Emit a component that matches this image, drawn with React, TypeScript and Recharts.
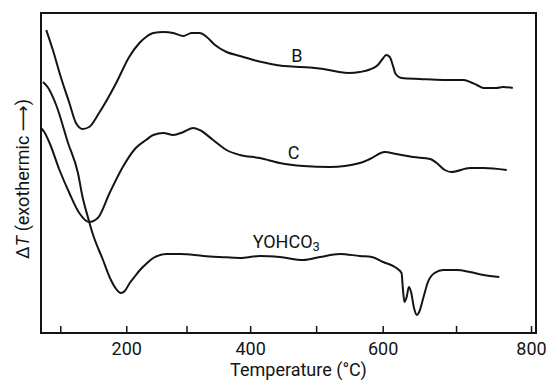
import React from 'react';
import { LineChart, Line, XAxis, YAxis, ReferenceArea, ReferenceDot, Label } from 'recharts';

// DTA traces: furnace temperature (°C) against ΔT (arbitrary recorder units)
const tempB = [78, 88, 100, 113, 123, 133, 143, 158, 184, 204, 221, 232, 244, 261, 277, 294, 307, 320, 331, 344, 362, 383, 404, 424, 444, 462, 490, 510, 530, 548, 565, 580, 592, 599, 604, 609, 613, 617, 625, 650, 682, 709, 718, 727, 736, 753, 762, 775];
const dtB = [303, 283, 256, 230, 210, 204, 206, 220, 250, 276, 290, 296, 300, 301, 300, 297, 300, 300, 296, 288, 281, 277, 273, 270, 267.5, 266.5, 265.5, 264, 261.5, 260, 261, 263.5, 268, 274, 278, 276, 268, 259, 255, 254, 253, 253, 251, 248, 245, 245, 246, 245];

const tempC = [70, 75, 83, 98, 113, 128, 143, 156, 174, 194, 215, 232, 244, 261, 277, 294, 310, 320, 341, 362, 383, 414, 444, 480, 520, 565, 580, 602, 618, 641, 664, 673, 684, 693, 718, 736, 767];
const dtC = [205, 201, 190, 163, 140, 120, 111, 115, 140, 166, 185, 193, 198, 200, 198, 201, 205, 203, 193, 183, 178, 175, 170, 167, 166, 170, 174, 181, 179, 176, 174, 170, 163, 161, 165, 165, 163];

const tempY = [73, 80, 93, 111, 126, 133, 141, 148, 164, 176, 184, 191, 197, 205, 214, 222, 232, 244, 266, 289, 326, 352, 383, 414, 444, 480, 505, 535, 565, 583, 600, 616, 625, 627, 629, 632, 635, 638, 642, 646, 649, 655, 661, 670, 682, 700, 718, 736, 757];
const dtY = [251, 246, 228, 190, 160, 136, 116, 100, 73, 53, 44, 40, 42, 50, 57, 63, 69, 75, 79, 79, 77, 76, 75, 77, 76, 73, 76, 79, 77, 76, 71, 66, 60, 43, 31, 36, 46, 41, 25, 18, 21, 36, 51, 60, 63, 63, 61, 58, 56];

// Axis ticks (every 100 °C, labelled every 200 °C)
const xTicks = [100, 200, 300, 400, 500, 600, 700, 800];
const xTickLabels = ['', '200', '', '400', '', '600', '', '800'];
const xDomain = [70, 806];
const yDomain = [0, 320];

// Curve captions: [temperature, ΔT] anchor of each name
const nameB = [470, 278];
const nameC = [465, 181];
const nameY = [403, 92];

// The recorder's temperature scale is not linear: relative length of the axis at each 100 °C mark
const scaleKnotTemp = [100, 200, 300, 400, 500, 600, 700, 800];
const scaleKnotPos = [0, 66, 126.3, 190, 256, 322.6, 396, 471];

const ink = '#141414';
const font = "Roboto, 'Liberation Sans', 'DejaVu Sans', sans-serif";

function segmentIndex(v: number, knots: number[]): number {
  if (v <= knots[0]) return 0;
  if (v >= knots[knots.length - 1]) return knots.length - 2;
  let i = 0;
  while (v > knots[i + 1]) i++;
  return i;
}

function warp(t: number): number {
  const i = segmentIndex(t, scaleKnotTemp);
  const k0 = scaleKnotTemp[i], k1 = scaleKnotTemp[i + 1];
  const p0 = scaleKnotPos[i], p1 = scaleKnotPos[i + 1];
  return p0 + ((t - k0) / (k1 - k0)) * (p1 - p0);
}

function unwarp(u: number): number {
  const i = segmentIndex(u, scaleKnotPos);
  const k0 = scaleKnotTemp[i], k1 = scaleKnotTemp[i + 1];
  const p0 = scaleKnotPos[i], p1 = scaleKnotPos[i + 1];
  return k0 + ((u - p0) / (p1 - p0)) * (k1 - k0);
}

// d3-style scale following the recorder's thermocouple calibration
function thermoScale(): any {
  let dom: number[] = [0, 1];
  let rng: number[] = [0, 1];
  const s: any = (t: number) => {
    const u0 = warp(dom[0]);
    const u1 = warp(dom[1]);
    return rng[0] + ((warp(Number(t)) - u0) / (u1 - u0)) * (rng[1] - rng[0]);
  };
  s.domain = (d?: any[]) => {
    if (d === undefined) return dom.slice();
    dom = [Number(d[0]), Number(d[d.length - 1])];
    return s;
  };
  s.range = (r?: any[]) => {
    if (r === undefined) return rng.slice();
    rng = [Number(r[0]), Number(r[r.length - 1])];
    return s;
  };
  s.invert = (px: number) => {
    const u0 = warp(dom[0]);
    const u1 = warp(dom[1]);
    return unwarp(u0 + ((px - rng[0]) / (rng[1] - rng[0])) * (u1 - u0));
  };
  s.ticks = () => xTicks.filter((t) => t >= dom[0] && t <= dom[1]);
  s.tickFormat = () => (v: number) => String(v);
  s.nice = () => s;
  s.clamp = () => s;
  s.copy = () => thermoScale().domain(dom).range(rng);
  return s;
}

const tempScale = thermoScale();

const toRows = (temps: number[], dts: number[]) => temps.map((t, i) => ({ t, dt: dts[i] }));
const seriesB = toRows(tempB, dtB);
const seriesC = toRows(tempC, dtC);
const seriesY = toRows(tempY, dtY);

const TempTick = (props: any) => {
  const { x, y, payload } = props;
  const idx = xTicks.indexOf(payload.value);
  const text = idx >= 0 ? xTickLabels[idx] : '';
  return (
    <g>
      <line x1={x} y1={y} x2={x} y2={y - 7} stroke={ink} strokeWidth={1.5} />
      {text ? (
        <text x={x} y={y + 22} textAnchor="middle" fontFamily={font} fontSize={18} fill={ink}>
          {text}
        </text>
      ) : null}
    </g>
  );
};

const curveName = (name: string) => (props: any) => (
  <text x={props.cx} y={props.cy} textAnchor="middle" dominantBaseline="central" fontFamily={font} fontSize={18} fill={ink}>
    {name}
  </text>
);

const compoundName = (props: any) => (
  <text x={props.cx} y={props.cy} dominantBaseline="central" fontFamily={font} fontSize={18} fill={ink}>
    YOHCO
    <tspan dy={5} fontSize={13}>3</tspan>
  </text>
);

export default function App() {
  return (
    <div style={{ position: 'absolute', left: 0, top: 0, background: '#fff' }}>
      <LineChart width={547} height={380} margin={{ top: 13, right: 11, bottom: 0, left: 0 }}>
        <XAxis
          dataKey="t"
          type="number"
          scale={tempScale}
          domain={xDomain}
          allowDataOverflow
          ticks={xTicks}
          interval={0}
          height={47}
          axisLine={false}
          tickLine={false}
          tickSize={0}
          tickMargin={0}
          tick={<TempTick />}
        >
          <Label
            content={(p: any) => {
              const vb = p.viewBox;
              return (
                <text x={vb.x + vb.width / 2 + 10} y={vb.y + 43} textAnchor="middle" fontFamily={font} fontSize={18} fill={ink}>
                  Temperature (°C)
                </text>
              );
            }}
          />
        </XAxis>
        <YAxis type="number" domain={yDomain} width={41} tick={false} tickLine={false} axisLine={false}>
          <Label
            content={(p: any) => {
              const vb = p.viewBox;
              const cx = vb.x + 22;
              const cy = vb.y + vb.height / 2 + 6;
              return (
                <text transform={`translate(${cx},${cy}) rotate(-90)`} textAnchor="middle" dominantBaseline="central" fontFamily={font} fontSize={18} fill={ink}>
                  Δ<tspan fontStyle="italic">T</tspan> (exothermic ⟶)
                </text>
              );
            }}
          />
        </YAxis>
        <ReferenceArea x1={xDomain[0]} x2={xDomain[1]} y1={yDomain[0]} y2={yDomain[1]} fill="none" stroke={ink} strokeWidth={2} />
        <Line data={seriesB} dataKey="dt" type="monotone" stroke={ink} strokeWidth={2} dot={false} isAnimationActive={false} />
        <Line data={seriesC} dataKey="dt" type="monotone" stroke={ink} strokeWidth={2} dot={false} isAnimationActive={false} />
        <Line data={seriesY} dataKey="dt" type="monotone" stroke={ink} strokeWidth={2} dot={false} isAnimationActive={false} />
        <ReferenceDot x={nameB[0]} y={nameB[1]} r={0} shape={curveName('B')} />
        <ReferenceDot x={nameC[0]} y={nameC[1]} r={0} shape={curveName('C')} />
        <ReferenceDot x={nameY[0]} y={nameY[1]} r={0} shape={compoundName} />
      </LineChart>
    </div>
  );
}
